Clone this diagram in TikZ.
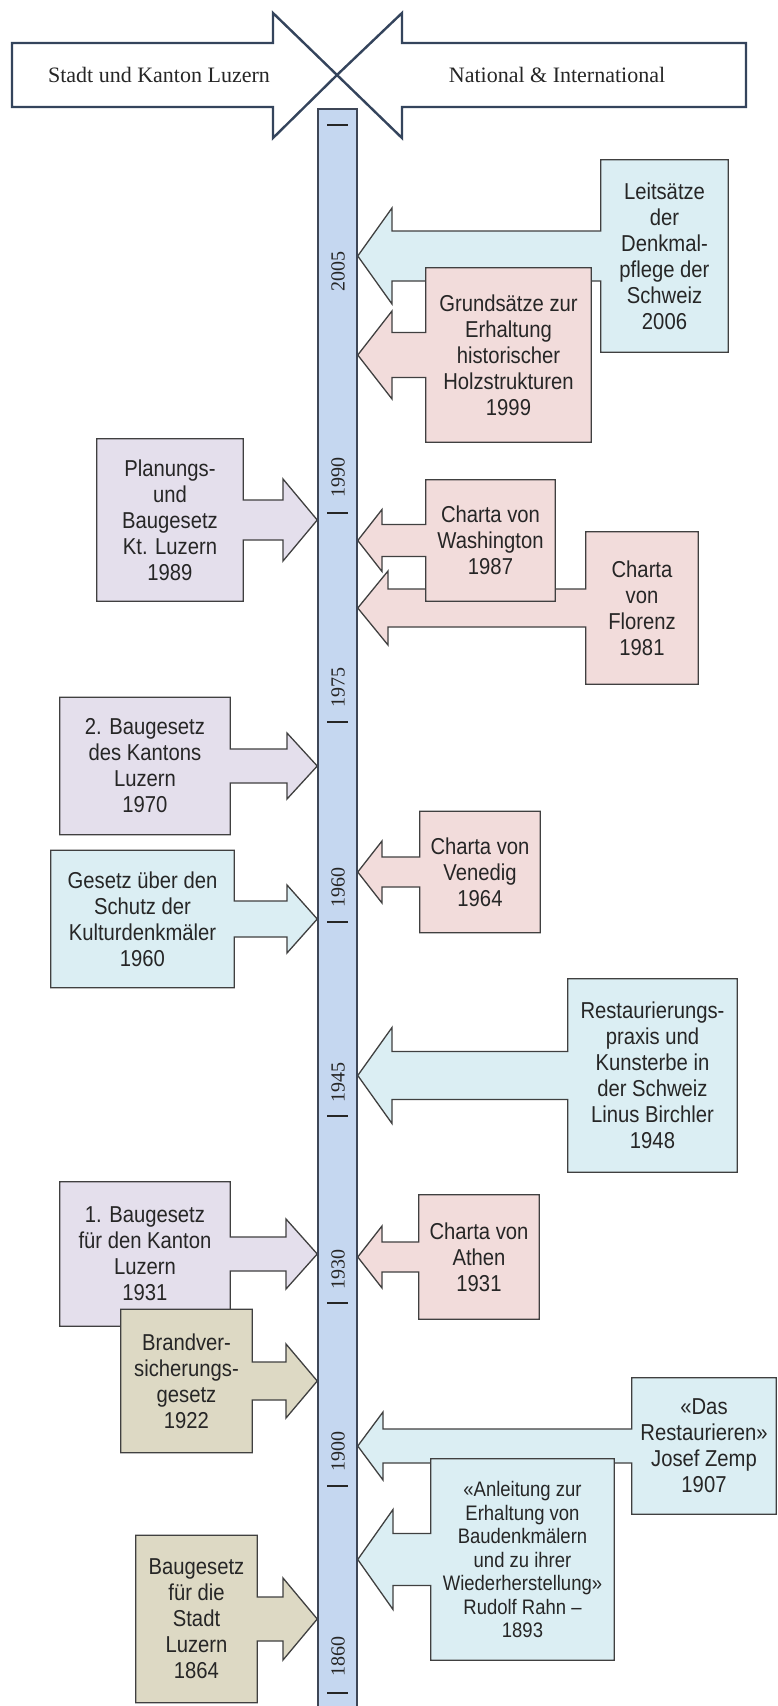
\documentclass[tikz,border=0pt]{standalone}
\usepackage{fontspec}
\setmainfont{Liberation Serif}
\newfontfamily\boxfont{Liberation Sans}[FakeStretch=0.88]
\usetikzlibrary{calc,backgrounds}

\definecolor{pinkfill}{RGB}{242,220,219}
\definecolor{cyanfill}{RGB}{219,238,243}
\definecolor{lilacfill}{RGB}{228,223,236}
\definecolor{tanfill}{RGB}{221,217,196}
\definecolor{barfill}{RGB}{197,215,240}
\definecolor{barline}{RGB}{62,70,86}
\definecolor{bannerline}{RGB}{52,68,92}
\definecolor{boxline}{RGB}{64,64,64}
\definecolor{textgray}{RGB}{38,38,38}

% box right of the bar, arrow points left onto the bar
\newcommand{\calloutleft}[5]{%
	\filldraw[#2] let \p1=(#1.west), \p2=(bar.east) in
		(#1.north west) -- (#1.north east) -- (#1.south east) -- (#1.south west)
		-- (\x1,\y1-#3pt) -- (#5pt,\y1-#3pt) -- (#5pt,\y1-#4pt) -- (\x2,\y1)
		-- (#5pt,\y1+#4pt) -- (#5pt,\y1+#3pt) -- (\x1,\y1+#3pt) -- cycle;
}
% box left of the bar, arrow points right onto the bar
\newcommand{\calloutright}[5]{%
	\filldraw[#2] let \p1=(#1.east), \p2=(bar.west) in
		(#1.north west) -- (#1.north east) -- (\x1,\y1+#3pt) -- (#5pt,\y1+#3pt)
		-- (#5pt,\y1+#4pt) -- (\x2,\y1) -- (#5pt,\y1-#4pt) -- (#5pt,\y1-#3pt)
		-- (\x1,\y1-#3pt) -- (#1.south east) -- (#1.south west) -- cycle;
}

\begin{document}
\begin{tikzpicture}[x=1pt,y=-1pt,
		boxtext/.style={inner sep=0pt, align=center, text=textgray, font=\boxfont\fontsize{23}{26}\selectfont},
		pinkbox/.style={draw=boxline, line width=1.3pt, fill=pinkfill},
		cyanbox/.style={draw=boxline, line width=1.3pt, fill=cyanfill},
		lilacbox/.style={draw=boxline, line width=1.3pt, fill=lilacfill},
		tanbox/.style={draw=boxline, line width=1.3pt, fill=tanfill},
		banner/.style={draw=bannerline, line width=2.4pt, fill=white},
		bannertext/.style={font=\fontsize{22}{24}\selectfont, text=textgray},
		yearlabel/.style={rotate=90, inner sep=0pt, font=\fontsize{20}{20}\selectfont, text=textgray},
		tickline/.style={draw=textgray, line width=1.4pt}]
	\useasboundingbox (0,0) rectangle (777,1706);

	% header arrows
	\filldraw[banner] (12,43) -- (273,43) -- (273,13) -- (337,75) -- (273,138) -- (273,107) -- (12,107) -- cycle;
	\filldraw[banner] (746,43) -- (402,43) -- (402,13) -- (337,75) -- (402,138) -- (402,107) -- (746,107) -- cycle;
	\node[bannertext] (luzern) at (159,75) {Stadt und Kanton Luzern};
	\node[bannertext] (intl) at (557,75) {National \& International};

	% time bar
	\node[draw=barline, line width=1.5pt, fill=barfill, inner sep=0pt, minimum width=39pt, minimum height=1620pt, anchor=north] (bar) at (337.5,108) {};
	\foreach \t in {125,513,722,922,1116,1303,1486,1693}
		\draw[tickline] (327,\t) -- (348,\t);
	\foreach \yr/\ty in {2005/271,1990/477,1975/687,1960/887,1945/1082,1930/1269,1900/1451,1860/1656}
		\node[yearlabel] (y\yr) at (338,\ty) {\yr};

	% national & international
	\node[boxtext, minimum width=127pt, minimum height=192pt] (leits) at (664.5,256) {Leitsätze\\der\\Denkmal-\\pflege der\\Schweiz\\2006};
	\node[boxtext, minimum width=165pt, minimum height=174pt] (grund) at (508.5,355) {Grundsätze zur\\Erhaltung\\historischer\\Holzstrukturen\\1999};
	\node[boxtext, minimum width=129pt, minimum height=121pt] (washington) at (490.5,540.5) {Charta von\\Washington\\1987};
	\node[boxtext, minimum width=112pt, minimum height=152pt] (florenz) at (642,608) {Charta\\von\\Florenz\\1981};
	\node[boxtext, minimum width=120pt, minimum height=121pt] (venedig) at (480,872) {Charta von\\Venedig\\1964};
	\node[boxtext, minimum width=169pt, minimum height=193pt] (restaur) at (652.5,1075.5) {Restaurierungs-\\praxis und\\Kunsterbe in\\der Schweiz\\Linus Birchler\\1948};
	\node[boxtext, minimum width=120pt, minimum height=124pt] (athen) at (479,1257) {Charta von\\Athen\\1931};
	\node[boxtext, minimum width=144pt, minimum height=136pt] (zemp) at (704,1446) {«Das\\Restaurieren»\\Josef Zemp\\1907};
	\node[boxtext, minimum width=183pt, minimum height=201pt, font=\boxfont\fontsize{21}{23.5}\selectfont] (rahn) at (522.5,1559.5) {«Anleitung zur\\Erhaltung von\\Baudenkmälern\\und zu ihrer\\Wiederherstellung»\\Rudolf Rahn –\\1893};

	% stadt und kanton
	\node[boxtext, minimum width=146pt, minimum height=162pt] (planung) at (170,520) {Planungs-\\und\\Baugesetz\\Kt. Luzern\\1989};
	\node[boxtext, minimum width=170pt, minimum height=137pt] (baug2) at (145,766) {2. Baugesetz\\des Kantons\\Luzern\\1970};
	\node[boxtext, minimum width=183pt, minimum height=137pt] (schutz) at (142.5,919) {Gesetz über den\\Schutz der\\Kulturdenkmäler\\1960};
	\node[boxtext, minimum width=170pt, minimum height=144pt] (baug1) at (145,1254) {1. Baugesetz\\für den Kanton\\Luzern\\1931};
	\node[boxtext, minimum width=131pt, minimum height=143pt] (brand) at (186.5,1381) {Brandver-\\sicherungs-\\gesetz\\1922};
	\node[boxtext, minimum width=121pt, minimum height=167pt] (stadt) at (196.5,1619) {Baugesetz\\für die\\Stadt\\Luzern\\1864};

	\begin{pgfonlayer}{background}
		\fill[white] (0,0) rectangle (777,1706);
		\calloutleft{leits}{cyanbox}{25}{48}{392}
		\calloutleft{grund}{pinkbox}{22.5}{44}{392}
		\calloutright{planung}{lilacbox}{20}{41}{283}
		\calloutleft{florenz}{pinkbox}{19}{37}{388}
		\calloutleft{washington}{pinkbox}{16}{31}{382}
		\calloutright{baug2}{lilacbox}{17}{33}{287}
		\calloutleft{venedig}{pinkbox}{15}{31}{382}
		\calloutright{schutz}{cyanbox}{18}{34}{287}
		\calloutleft{restaur}{cyanbox}{24}{48}{392}
		\calloutright{baug1}{lilacbox}{17}{35}{286}
		\calloutleft{athen}{pinkbox}{15}{31}{382}
		\calloutright{brand}{tanbox}{19}{37}{286}
		\calloutleft{zemp}{cyanbox}{17}{34}{383}
		\calloutleft{rahn}{cyanbox}{26}{50}{393}
		\calloutright{stadt}{tanbox}{22}{41}{283}
	\end{pgfonlayer}
\end{tikzpicture}
\end{document}
